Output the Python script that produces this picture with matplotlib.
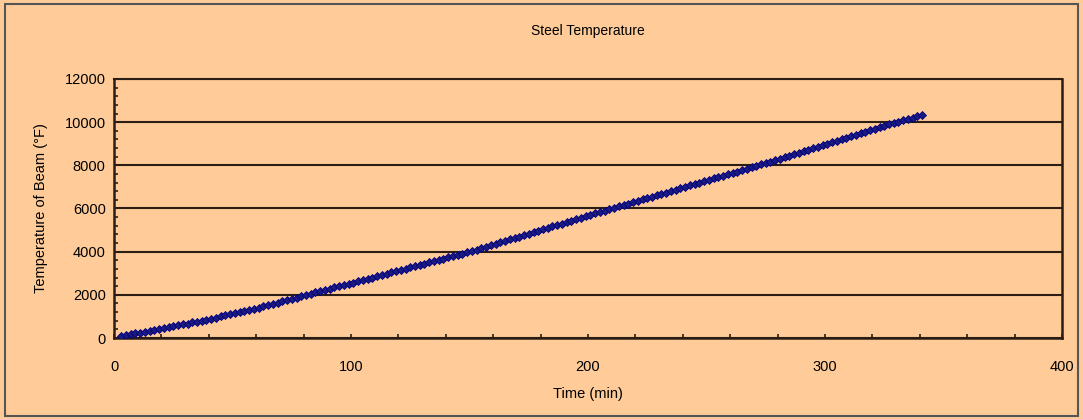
import matplotlib
matplotlib.use("Agg")
import matplotlib.pyplot as plt
import numpy as np
from matplotlib.patches import Rectangle
from matplotlib.ticker import MultipleLocator

# beam temperature readings, one every 2 minutes
time_min = np.arange(3, 342, 2)
temp_f = [
    90, 130, 170, 210, 250, 290, 330, 370, 410,
    450, 500, 540, 580, 630, 670, 720, 760, 800, 850,
    900, 950, 1000, 1050, 1100, 1150, 1200, 1250, 1300, 1350,
    1410, 1470, 1520, 1580, 1640, 1700, 1760, 1820, 1870, 1930,
    1990, 2050, 2110, 2160, 2220, 2280, 2340, 2400, 2450, 2510,
    2570, 2630, 2690, 2740, 2800, 2860, 2920, 2980, 3040, 3100,
    3150, 3210, 3270, 3330, 3390, 3450, 3500, 3560, 3620, 3680,
    3740, 3800, 3850, 3910, 3970,
    4030, 4100, 4170, 4230, 4300, 4370, 4430, 4500, 4570, 4630,
    4700, 4770, 4830, 4900, 4970, 5030, 5100, 5170, 5230, 5300,
    5370, 5430, 5500, 5570, 5630, 5700, 5770, 5830, 5900, 5970,
    6030, 6100, 6160, 6230, 6290, 6360, 6420, 6480, 6550, 6610,
    6680, 6740, 6810, 6870, 6940, 7000, 7070, 7130, 7190, 7260,
    7320, 7390, 7450, 7520, 7580, 7650, 7710, 7770, 7840, 7900,
    7970,
    8040, 8100, 8170, 8240, 8310, 8380, 8450, 8520, 8590, 8660,
    8730, 8790, 8860, 8930, 9000, 9070, 9140, 9210, 9280, 9350,
    9420, 9480, 9550, 9620, 9690, 9760, 9830, 9900, 9970,
    10030, 10090, 10150, 10210, 10270, 10330,
]

bg = '#ffcc99'
ink = '#2b1d14'
plt.rcParams['font.family'] = ['Liberation Sans', 'DejaVu Sans']

fig = plt.figure(figsize=(10.83, 4.19), dpi=100, facecolor=bg)
fig.patches.append(Rectangle((0.005, 0.008), 0.99, 0.982, transform=fig.transFigure,
                             fill=False, edgecolor='#555555', lw=1.5))

ax = fig.add_axes([0.1053, 0.1933, 0.8753, 0.6182], facecolor=bg)

ax.plot(time_min, temp_f, color='#990000', lw=1.0, marker='D', markersize=3.6,
        markerfacecolor='#1a1a80', markeredgecolor='#000080', markeredgewidth=0.6,
        zorder=3)

ax.set_xlim(0, 400)
ax.set_ylim(0, 12000)
ax.xaxis.set_major_locator(MultipleLocator(100))
ax.xaxis.set_minor_locator(MultipleLocator(20))
ax.yaxis.set_major_locator(MultipleLocator(2000))
ax.yaxis.set_minor_locator(MultipleLocator(400))

ax.grid(axis='y', which='major', color=ink, lw=1.5)
ax.set_axisbelow(True)
for side in ['left', 'bottom', 'right', 'top']:
    ax.spines[side].set_color(ink)
    ax.spines[side].set_linewidth(1.8)
ax.spines['top'].set_linewidth(1.5)

ax.tick_params(which='both', direction='in', color=ink, labelsize=10.5, labelcolor='black')
ax.tick_params(which='both', length=3, width=1.2, top=False, right=False)
ax.tick_params(axis='x', pad=16)
ax.tick_params(axis='y', pad=6)

ax.set_title('Steel Temperature', fontsize=10, pad=32)
ax.set_xlabel('Time (min)', fontsize=10.5, labelpad=9)
ax.set_ylabel('Temperature of Beam (°F)', fontsize=10.5, labelpad=12)

fig.savefig('out.png', dpi=100, facecolor=bg)
